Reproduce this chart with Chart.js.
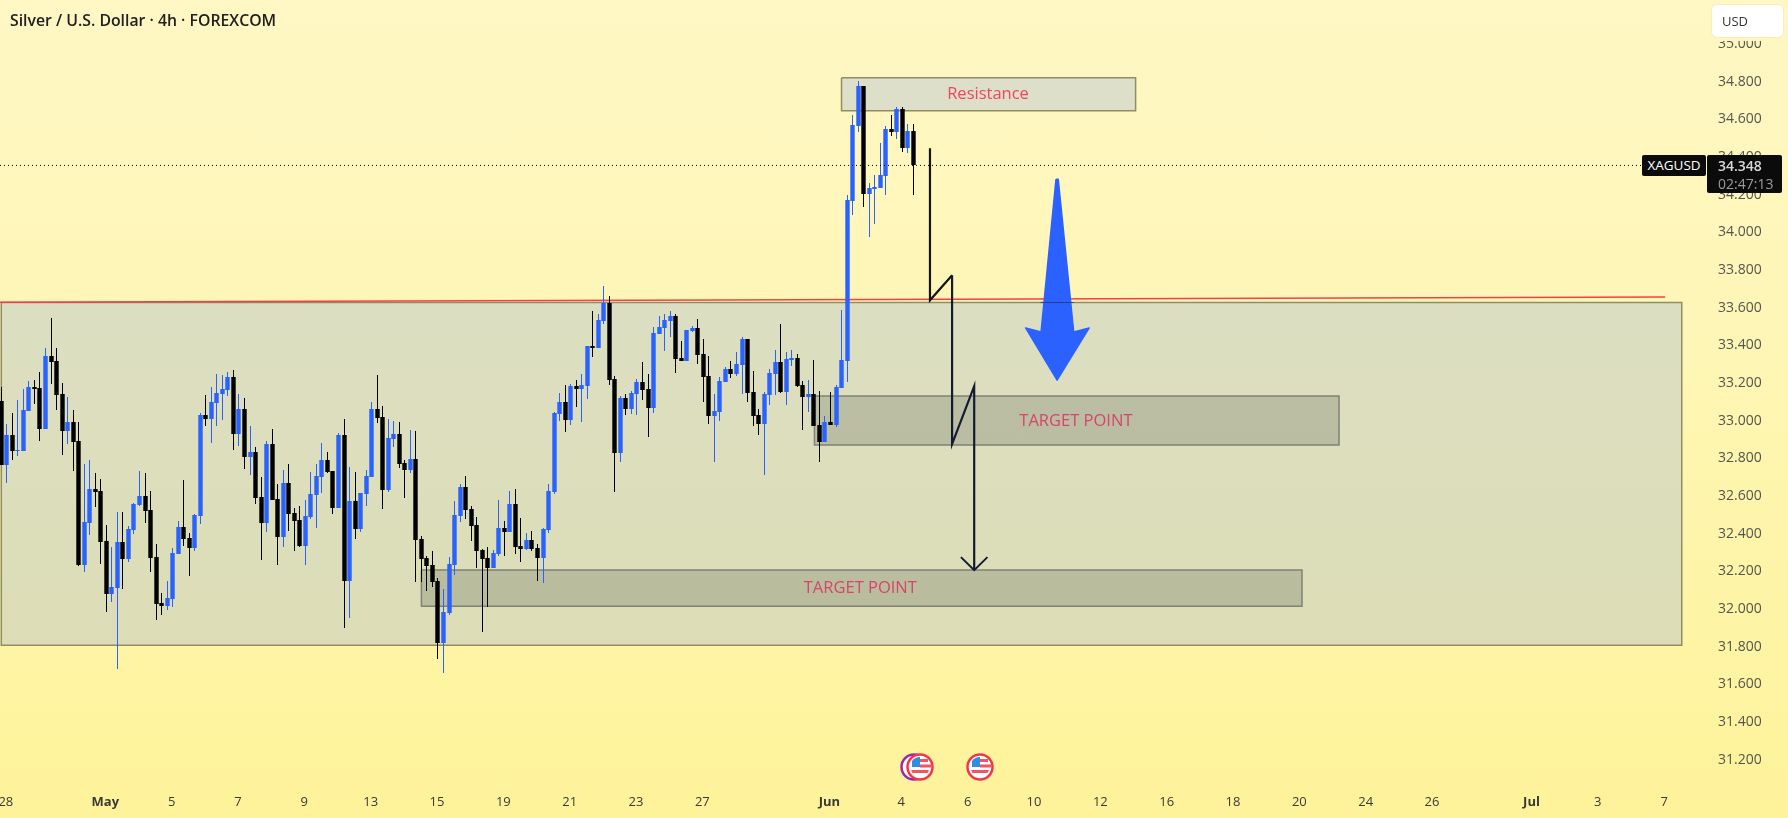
<!DOCTYPE html>
<html>
<head>
<meta charset="utf-8">
<title>XAGUSD 4h</title>
<script src="https://cdn.jsdelivr.net/npm/chart.js@4/dist/chart.umd.min.js"></script>
<style>
    html, body { margin: 0; padding: 0; }
    body {
        width: 1788px;
        height: 818px;
        position: relative;
        overflow: hidden;
        background: linear-gradient(180deg, #fff7c4 0%, #fef6b6 40%, #fef39a 100%);
        font-family: "Open Sans", sans-serif;
    }
    canvas { position: absolute; left: 0; top: 0; }
    .title {
        position: absolute; left: 10px; top: 10px;
        font-size: 15.8px; font-weight: 600; line-height: 20px; color: #20201e;
        white-space: nowrap;
    }
    .usd-btn {
        position: absolute; left: 1712px; top: 5px; width: 71px; height: 32px;
        box-sizing: border-box; padding-left: 10px;
        background: #fff; border-radius: 5px; box-shadow: 0 0 2px rgba(0,0,0,0.12), 0 4px 0 #fff6c0;
        font-size: 13px; line-height: 32px; color: #333;
    }
    .tag {
        position: absolute; background: #0b0b0b; border-radius: 2px;
        font-size: 14px; white-space: nowrap;
    }
    .tag-name { left: 1642px; top: 155px; width: 64px; height: 21px; color: #fff; line-height: 21px; text-align: center; font-size: 13.5px; }
    .tag-price { left: 1707px; top: 155px; width: 75px; height: 38px; padding-left: 11px; box-sizing: border-box; line-height: 18px; padding-top: 2px; color: #d8d8d8; font-weight: 600; }
    .tag-price span { display: block; color: #9a9a9a; font-weight: 400; }
    .flag { position: absolute; top: 752px; }
</style>
</head>
<body>
<canvas id="chart" width="1788" height="818"></canvas>

<div class="title">Silver / U.S. Dollar · 4h · FOREXCOM</div>
<div class="usd-btn">USD</div>
<div class="tag tag-name">XAGUSD</div>
<div class="tag tag-price">34.348<span>02:47:13</span></div>

<svg class="flag" style="left:899px" width="36" height="30" viewBox="0 0 36 30">
    <circle cx="15" cy="15" r="12.5" fill="#fff" stroke="#9c27b0" stroke-width="2.5"/>
    <g id="usFlag">
        <circle cx="21" cy="15" r="12.5" fill="#fff" stroke="#f23645" stroke-width="2.5"/>
        <path d="M13 15 V9 a11 11 0 0 1 8 -4 V15 Z" fill="#2f8de4"/>
        <rect x="21" y="7" width="8" height="3" fill="#f7525f"/>
        <rect x="21" y="12.5" width="11" height="3" fill="#f7525f"/>
        <path d="M12 18 H30 L28.5 21 H13.5 Z" fill="#f7525f"/>
    </g>
</svg>
<svg class="flag" style="left:959px" width="36" height="30" viewBox="0 0 36 30">
    <use href="#usFlag"/>
</svg>

<script>
// 4h candles, oldest first
const opens = [
    33.096, 32.756, 32.915, 32.830, 32.830, 33.043, 33.170, 33.165, 32.947, 33.335,
    33.308, 33.133, 32.937, 32.984, 32.884, 32.225, 32.448, 32.629, 32.618, 32.353,
    32.072, 32.103, 32.348, 32.257, 32.411, 32.544, 32.592, 32.517, 32.268, 32.024,
    32.008, 32.045, 32.284, 32.427, 32.369, 32.316, 32.486, 33.022, 33.000, 33.085,
    33.133, 33.154, 33.223, 32.921, 33.053, 32.799, 32.825, 32.586, 32.448, 32.868,
    32.576, 32.374, 32.661, 32.501, 32.465, 32.327, 32.481, 32.597, 32.693, 32.783,
    32.725, 32.528, 32.916, 32.141, 32.566, 32.417, 32.603, 32.693, 33.054, 33.011,
    32.624, 32.895, 32.921, 32.767, 32.730, 32.788, 32.364, 32.263, 32.226, 32.141,
    31.812, 31.971, 32.226, 32.486, 32.640, 32.523, 32.438, 32.306, 32.263, 32.210,
    32.284, 32.422, 32.401, 32.550, 32.327, 32.311, 32.359, 32.316, 32.263, 32.412,
    32.613, 33.027, 33.091, 32.995, 33.176, 33.160, 33.176, 33.388, 33.378, 33.521,
    33.616, 33.213, 32.820, 33.112, 33.054, 33.133, 33.197, 33.160, 33.059, 33.452,
    33.484, 33.521, 33.547, 33.324, 33.309, 33.468, 33.484, 33.346, 33.229, 33.017,
    33.038, 33.197, 33.266, 33.240, 33.287, 33.425, 33.144, 33.022, 32.974, 33.128,
    33.240, 33.303, 33.144, 33.314, 33.324, 33.181, 33.118, 33.133, 32.969, 32.879,
    32.985, 32.969, 33.165, 33.309, 34.158, 34.556, 34.768, 34.195, 34.221, 34.227,
    34.290, 34.540, 34.524, 34.646, 34.439, 34.529
];
const highs = [
    33.170, 32.974, 33.032, 33.101, 33.160, 33.202, 33.207, 33.250, 33.377, 33.536,
    33.377, 33.191, 33.117, 33.048, 32.984, 32.762, 32.783, 32.714, 32.682, 32.438,
    32.321, 32.507, 32.507, 32.432, 32.555, 32.724, 32.714, 32.618, 32.337, 32.077,
    32.141, 32.316, 32.459, 32.677, 32.395, 32.496, 33.032, 33.128, 33.170, 33.239,
    33.234, 33.250, 33.260, 33.133, 33.112, 32.963, 32.852, 32.693, 32.884, 32.947,
    32.655, 32.730, 32.762, 32.528, 32.539, 32.571, 32.719, 32.762, 32.873, 32.826,
    32.725, 32.926, 33.001, 32.746, 32.719, 32.608, 32.730, 33.091, 33.234, 33.070,
    33.001, 32.990, 32.985, 32.783, 32.942, 32.937, 32.380, 32.274, 32.300, 32.157,
    32.099, 32.268, 32.566, 32.656, 32.698, 32.539, 32.481, 32.311, 32.321, 32.306,
    32.571, 32.459, 32.619, 32.629, 32.475, 32.396, 32.406, 32.337, 32.422, 32.656,
    33.038, 33.139, 33.181, 33.186, 33.208, 33.240, 33.388, 33.574, 33.558, 33.707,
    33.653, 33.229, 33.123, 33.133, 33.149, 33.213, 33.303, 33.240, 33.489, 33.547,
    33.558, 33.574, 33.558, 33.415, 33.473, 33.494, 33.531, 33.425, 33.335, 33.133,
    33.224, 33.277, 33.309, 33.356, 33.436, 33.425, 33.256, 33.054, 33.144, 33.266,
    33.367, 33.505, 33.356, 33.367, 33.346, 33.202, 33.208, 33.314, 33.149, 33.017,
    33.144, 33.181, 33.579, 34.190, 34.614, 34.795, 34.768, 34.253, 34.296, 34.466,
    34.556, 34.614, 34.657, 34.657, 34.566, 34.566
];
const lows = [
    32.756, 32.661, 32.783, 32.804, 32.830, 33.043, 33.080, 32.884, 32.947, 33.186,
    33.048, 32.809, 32.868, 32.724, 32.220, 32.188, 32.385, 32.533, 32.231, 31.976,
    32.029, 31.674, 32.098, 32.241, 32.390, 32.539, 32.448, 32.188, 31.934, 31.960,
    31.987, 32.003, 32.284, 32.326, 32.167, 32.300, 32.443, 32.963, 32.873, 32.963,
    32.995, 33.122, 32.836, 32.857, 32.735, 32.703, 32.549, 32.252, 32.401, 32.570,
    32.225, 32.321, 32.406, 32.300, 32.321, 32.226, 32.470, 32.422, 32.608, 32.714,
    32.497, 32.528, 31.892, 31.945, 32.364, 32.401, 32.539, 32.693, 32.980, 32.523,
    32.613, 32.852, 32.741, 32.581, 32.714, 32.136, 32.136, 32.088, 32.109, 31.727,
    31.653, 31.961, 32.173, 32.454, 32.470, 32.353, 32.210, 31.870, 32.003, 32.210,
    32.274, 32.274, 32.401, 32.284, 32.242, 32.306, 32.300, 32.141, 32.130, 32.396,
    32.603, 32.990, 32.932, 32.969, 33.064, 32.985, 33.107, 33.330, 33.378, 33.505,
    33.181, 32.613, 32.773, 33.022, 33.027, 33.022, 33.102, 32.905, 33.033, 33.452,
    33.362, 33.436, 33.245, 33.309, 33.309, 33.462, 33.293, 33.091, 32.974, 32.773,
    32.990, 33.197, 33.218, 33.229, 33.133, 33.091, 32.964, 32.916, 32.704, 33.075,
    33.128, 33.139, 33.075, 33.282, 33.171, 32.942, 33.038, 32.964, 32.773, 32.879,
    32.969, 32.958, 33.165, 33.197, 34.083, 34.524, 34.126, 33.967, 34.036, 34.227,
    34.190, 34.503, 34.487, 34.418, 34.412, 34.190
];
const closes = [
    32.756, 32.915, 32.830, 32.837, 33.048, 33.170, 33.160, 32.947, 33.335, 33.303,
    33.128, 32.937, 32.984, 32.878, 32.225, 32.454, 32.629, 32.613, 32.348, 32.072,
    32.109, 32.348, 32.257, 32.417, 32.549, 32.592, 32.512, 32.263, 32.019, 32.008,
    32.050, 32.289, 32.427, 32.363, 32.316, 32.491, 33.022, 33.000, 33.091, 33.138,
    33.160, 33.223, 32.921, 33.053, 32.799, 32.825, 32.581, 32.448, 32.868, 32.570,
    32.374, 32.661, 32.496, 32.459, 32.327, 32.486, 32.603, 32.698, 32.783, 32.719,
    32.528, 32.916, 32.141, 32.566, 32.417, 32.608, 32.698, 33.054, 33.006, 32.624,
    32.900, 32.921, 32.762, 32.730, 32.788, 32.359, 32.258, 32.221, 32.136, 31.812,
    31.976, 32.231, 32.491, 32.640, 32.518, 32.433, 32.300, 32.258, 32.210, 32.290,
    32.422, 32.401, 32.550, 32.321, 32.311, 32.359, 32.311, 32.263, 32.417, 32.619,
    33.033, 33.091, 32.995, 33.176, 33.160, 33.181, 33.388, 33.378, 33.526, 33.616,
    33.208, 32.820, 33.112, 33.054, 33.139, 33.197, 33.155, 33.059, 33.457, 33.489,
    33.526, 33.547, 33.319, 33.309, 33.473, 33.484, 33.340, 33.224, 33.017, 33.043,
    33.202, 33.266, 33.240, 33.293, 33.425, 33.139, 33.017, 32.974, 33.133, 33.245,
    33.303, 33.144, 33.319, 33.324, 33.176, 33.118, 33.133, 32.964, 32.879, 32.985,
    32.969, 33.171, 33.314, 34.163, 34.561, 34.768, 34.195, 34.227, 34.232, 34.296,
    34.540, 34.524, 34.646, 34.439, 34.529, 34.348
];

// Time axis: bar index of each date label
const tickIndex  = [1, 19, 31, 43, 55, 67, 79, 91, 103, 115, 127, 150, 163, 175, 187, 199, 211, 223, 235, 247, 259, 277, 289, 301];
const tickLabels = ['28', 'May', '5', '7', '9', '13', '15', '19', '21', '23', '27', 'Jun', '4', '6', '10', '12', '16', '18', '20', '24', '26', 'Jul', '3', '7'];
const monthLabels = ['May', 'Jun', 'Jul'];

// Price axis
const priceTicks = [31.2, 31.4, 31.6, 31.8, 32.0, 32.2, 32.4, 32.6, 32.8, 33.0, 33.2, 33.4, 33.6, 33.8, 34.0, 34.2, 34.4, 34.6, 34.8, 35.0];
const priceMin = 31.042;
const priceMax = 35.2265;
const barMin = -0.235;
const barMax = 307.3;

const lastPrice = 34.348;
const lastPriceEnd = 296.8;

// Drawn zones as [first bar, last bar, top price, bottom price]
const rangeZone      = [0, 304.0, 33.620, 31.800];
const resistanceZone = [152.0, 205.2, 34.814, 34.639];
const targetZoneHigh = [147.1, 242.0, 33.123, 32.864];
const targetZoneLow  = [76.0, 235.3, 32.199, 32.007];

const trendLineBars   = [-0.235, 301.0];
const trendLinePrices = [33.622, 33.649];

// Projected path down to the lower target
const pathBarsA   = [168, 168, 172];
const pathPricesA = [34.439, 33.632, 33.765];
const pathBarsB   = [172, 172, 176, 176];
const pathPricesB = [33.765, 32.868, 33.176, 32.199];
const headBars    = [173.6, 176, 178.4];
const headPrices  = [32.268, 32.199, 32.268];

// Big down arrow outline
const arrowBars   = [190.8, 191.2, 194.0, 196.8, 191.0, 185.3, 188.1];
const arrowPrices = [34.275, 34.275, 33.464, 33.485, 33.208, 33.485, 33.464];

const zoneTexts   = ['Resistance', 'TARGET POINT', 'TARGET POINT'];
const zoneTextBar = [178.5, 194.4, 155.4];
const zoneTextY   = [34.724, 32.988, 32.101];
const zoneTextCol = ['#f2435f', '#d8446c', '#d8446c'];

const CANDLE_BLUE = '#2962ff';
const CANDLE_BLACK = '#000000';
const AXIS_FONT = '"Open Sans", sans-serif';

function toPoints(xs, ys) {
    return xs.map((x, i) => ({ x: x, y: ys[i] }));
}

function zoneOutline(zone) {
    const [x0, x1, top, bottom] = zone;
    return toPoints([x0, x1, x1, x0, x0], [top, top, bottom, bottom, top]);
}

function shapeDataset(points, fill, border, order, width, join) {
    return {
        type: 'line',
        data: points,
        backgroundColor: fill,
        borderColor: border,
        borderWidth: width,
        borderJoinStyle: join || 'miter',
        fill: 'shape',
        pointRadius: 0,
        tension: 0,
        order: order
    };
}

function lineDataset(points, color, width, order, extra) {
    return Object.assign({
        type: 'line',
        data: points,
        borderColor: color,
        borderWidth: width,
        fill: false,
        pointRadius: 0,
        tension: 0,
        order: order
    }, extra || {});
}

function candleColors() {
    return closes.map((c, i) => (c >= opens[i] ? CANDLE_BLUE : CANDLE_BLACK));
}

// Snap candles to whole pixels so the wicks stay one pixel wide
const snapCandles = {
    id: 'snapCandles',
    afterDatasetsUpdate(chart) {
        chart.getSortedVisibleDatasetMetas().forEach(meta => {
            if (meta.type !== 'bar') return;
            meta.data.forEach(bar => {
                bar.x = Math.floor(bar.x) + 0.5;
                bar.y = Math.round(bar.y);
                bar.base = Math.round(bar.base);
                if (bar.y === bar.base) bar.base += 1;
            });
        });
    }
};

const zoneTextPlugin = {
    id: 'zoneText',
    afterDatasetsDraw(chart) {
        const { ctx, scales } = chart;
        ctx.save();
        ctx.font = '16.5px ' + AXIS_FONT;
        ctx.textAlign = 'center';
        ctx.textBaseline = 'middle';
        zoneTexts.forEach((text, i) => {
            ctx.fillStyle = zoneTextCol[i];
            ctx.fillText(text, scales.x.getPixelForValue(zoneTextBar[i]), scales.y.getPixelForValue(zoneTextY[i]));
        });
        ctx.restore();
    }
};

function renderChart() {
    const ctx = document.getElementById('chart').getContext('2d');
    const bars = opens.map((_, i) => i);

    new Chart(ctx, {
        type: 'bar',
        data: {
            datasets: [
                shapeDataset(zoneOutline(rangeZone), 'rgba(171, 188, 210, 0.4)', '#908d64', 60, 1.5),
                lineDataset(toPoints(trendLineBars, trendLinePrices), '#f23f4a', 1.5, 55),
                shapeDataset(toPoints(arrowBars, arrowPrices).concat([{ x: arrowBars[0], y: arrowPrices[0] }]), '#2b62ff', '#2b62ff', 50, 1.5, 'round'),
                // range top edge passes over the arrow
                lineDataset(toPoints([188, 194], [33.620, 33.620]), 'rgba(40, 50, 70, 0.7)', 1, 45),
                shapeDataset(zoneOutline(targetZoneHigh), 'rgba(77, 83, 75, 0.24)', '#7f8276', 40, 1.5),
                shapeDataset(zoneOutline(targetZoneLow), 'rgba(77, 83, 75, 0.24)', '#7f8276', 39, 1.5),
                shapeDataset(zoneOutline(resistanceZone), 'rgba(171, 188, 215, 0.4)', '#908d64', 38, 1.5),
                {
                    label: 'wicks',
                    data: bars.map(i => ({ x: i, y: [lows[i], highs[i]] })),
                    backgroundColor: candleColors(),
                    borderWidth: 0,
                    inflateAmount: 0,
                    grouped: false,
                    barPercentage: 1,
                    maxBarThickness: 1,
                    order: 20
                },
                {
                    label: 'bodies',
                    data: bars.map(i => ({ x: i, y: [opens[i], closes[i]] })),
                    backgroundColor: candleColors(),
                    borderWidth: 0,
                    inflateAmount: 0,
                    grouped: false,
                    barPercentage: 1,
                    maxBarThickness: 5,
                    order: 19
                },
                lineDataset(toPoints([barMin, lastPriceEnd], [lastPrice, lastPrice]), '#000000', 1, 10, { borderDash: [1, 3] }),
                lineDataset(toPoints(pathBarsA, pathPricesA), '#141414', 2.2, 6),
                lineDataset(toPoints(pathBarsB, pathPricesB), '#131b33', 2.2, 5),
                lineDataset(toPoints(headBars, headPrices), '#131b33', 2, 4)
            ]
        },
        options: {
            responsive: false,
            animation: false,
            events: [],
            layout: { padding: 0 },
            plugins: {
                legend: { display: false },
                tooltip: { enabled: false }
            },
            scales: {
                x: {
                    type: 'linear',
                    offset: false,
                    min: barMin,
                    max: barMax,
                    grid: { display: false, drawTicks: false },
                    border: { display: false },
                    afterFit(scale) {
                        scale.height = 30;
                        scale.paddingLeft = 0;
                        scale.paddingRight = 0;
                    },
                    afterBuildTicks(scale) { scale.ticks = tickIndex.map(v => ({ value: v })); },
                    ticks: {
                        autoSkip: false,
                        maxRotation: 0,
                        padding: 6,
                        labelOffset: -1,
                        color: '#3a3a34',
                        font: c => ({
                            family: AXIS_FONT,
                            size: 13,
                            weight: monthLabels.includes(tickLabels[tickIndex.indexOf(c.tick ? c.tick.value : -1)]) ? 'bold' : 'normal'
                        }),
                        callback: value => tickLabels[tickIndex.indexOf(value)]
                    }
                },
                y: {
                    position: 'right',
                    min: priceMin,
                    max: priceMax,
                    grid: { display: false, drawTicks: false },
                    border: { display: false },
                    afterFit(scale) {
                        scale.width = 88;
                        scale.paddingTop = 0;
                        scale.paddingBottom = 0;
                    },
                    afterBuildTicks(scale) { scale.ticks = priceTicks.map(v => ({ value: v })); },
                    ticks: {
                        autoSkip: false,
                        padding: 18,
                        labelOffset: 1.5,
                        color: '#55554c',
                        font: { family: AXIS_FONT, size: 14 },
                        callback: value => value.toFixed(3)
                    }
                }
            }
        },
        plugins: [snapCandles, zoneTextPlugin]
    });
}

document.addEventListener('DOMContentLoaded', renderChart);
</script>
</body>
</html>
